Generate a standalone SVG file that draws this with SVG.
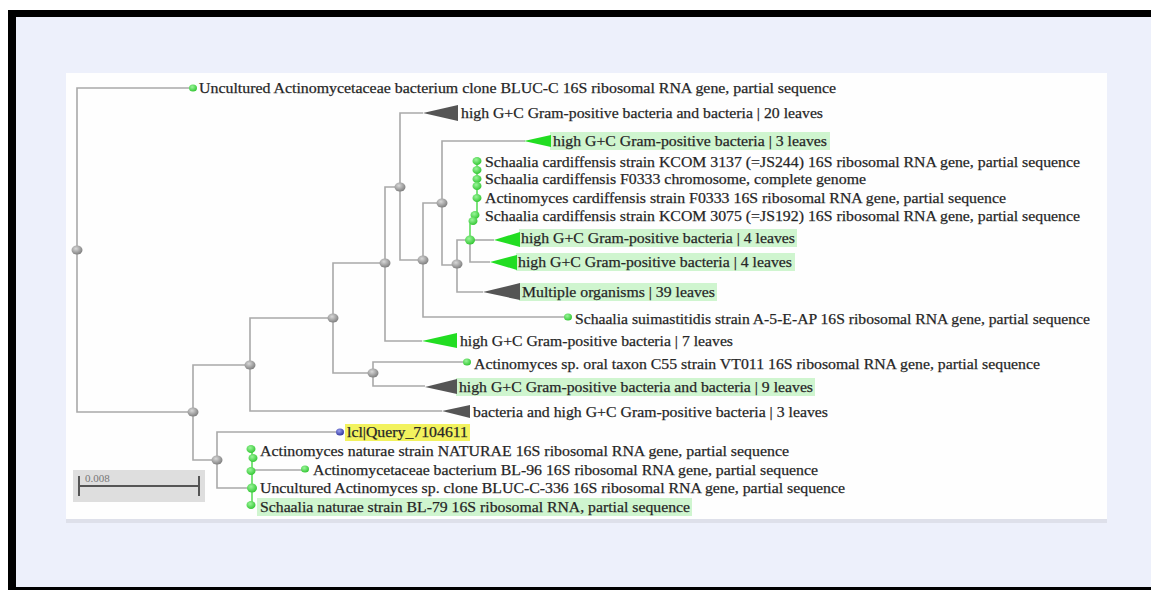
<svg xmlns="http://www.w3.org/2000/svg" width="1151" height="590" viewBox="0 0 1151 590" font-family="Liberation Serif, DejaVu Serif, serif">
<style>
.lbl{font-family:'Liberation Serif','DejaVu Serif',serif;font-size:15px;fill:#222;stroke:#333;stroke-width:0.25}
.hl{fill:#cff5cf}
.ln{fill:none;stroke:#a9a9a9;stroke-width:1.6}
.gln{fill:none;stroke:#6ee06e;stroke-width:1.8}
.gn{fill:url(#gg)}
.grn{fill:url(#gr)}
.tg{fill:#555}
.tgr{fill:#22dd22}
</style>
<defs>
<radialGradient id="gg" cx="0.4" cy="0.35" r="0.7">
<stop offset="0" stop-color="#d8d8d8"/><stop offset="1" stop-color="#7a7a7a"/>
</radialGradient>
<radialGradient id="gr" cx="0.4" cy="0.35" r="0.7">
<stop offset="0" stop-color="#9af59a"/><stop offset="1" stop-color="#2ec42e"/>
</radialGradient>
<radialGradient id="bl" cx="0.4" cy="0.35" r="0.7">
<stop offset="0" stop-color="#9aa0f0"/><stop offset="1" stop-color="#2a2f9a"/>
</radialGradient>
</defs>
<rect x="0" y="0" width="1151" height="590" fill="#ffffff"/>
<rect x="8" y="10" width="1143" height="580" fill="#000"/>
<rect x="16" y="17" width="1135" height="570" fill="#edf0fb"/>
<rect x="66" y="518" width="1041" height="5" fill="#d9dce6" opacity="0.8"/>
<rect x="66" y="73" width="1041" height="446" fill="#fefefe"/>

<g id="highlights">
<rect class="hl" x="550" y="132" width="280" height="18"/>
<rect class="hl" x="519" y="229" width="278" height="18"/>
<rect class="hl" x="516" y="253" width="279" height="18"/>
<rect class="hl" x="519" y="283" width="198" height="18"/>
<rect class="hl" x="456" y="378" width="359" height="18"/>
<rect class="hl" x="257" y="498" width="435" height="18"/>
<rect x="345" y="424" width="125" height="17" fill="#f2f25e"/>
</g>

<g id="connectors">
<path class="ln" d="M190,88 H77 V412 H193"/>
<path class="ln" d="M250,365 H193 V460 H217"/>
<path class="ln" d="M333,318 H250 V411 H442"/>
<path class="ln" d="M385,263 H333 V373 H373"/>
<path class="ln" d="M466,362 H373 V386 H425"/>
<path class="ln" d="M400,187 H385 V341 H422"/>
<path class="ln" d="M423,113 H400 V260 H423"/>
<path class="ln" d="M442,203 H423 V317 H566"/>
<path class="ln" d="M525,141 H442 V265 H457"/>
<path class="ln" d="M470,240 H457 V292 H483"/>
<path class="ln" d="M470,240 H494"/>
<path class="ln" d="M470,240 V262 H490"/>
<path class="gln" d="M477,161 V215 L470,224 V240"/>
<path class="ln" d="M338,432 H217 V488 H252"/>
<path class="gln" d="M252,449 V505"/>
<path class="ln" d="M252,470 H303"/>
</g>

<g id="n-root"><ellipse class="gn" cx="77" cy="250" rx="5.5" ry="4.5"/></g>
<g id="n-a"><ellipse class="gn" cx="193" cy="412" rx="5.5" ry="4.5"/></g>
<g id="n-b"><ellipse class="gn" cx="250" cy="365" rx="5.5" ry="4.5"/></g>
<g id="n-c"><ellipse class="gn" cx="333" cy="318" rx="5.5" ry="4.5"/></g>
<g id="n-d"><ellipse class="gn" cx="373" cy="373" rx="5.5" ry="4.5"/></g>
<g id="n-e"><ellipse class="gn" cx="385" cy="263" rx="5.5" ry="4.5"/></g>
<g id="n-f"><ellipse class="gn" cx="400" cy="187" rx="5.5" ry="4.5"/></g>
<g id="n-g"><ellipse class="gn" cx="423" cy="260" rx="5.5" ry="4.5"/></g>
<g id="n-h"><ellipse class="gn" cx="442" cy="203" rx="5.5" ry="4.5"/></g>
<g id="n-i"><ellipse class="gn" cx="457" cy="264" rx="5.5" ry="4.5"/></g>
<g id="n-k"><ellipse class="gn" cx="217" cy="460" rx="5.5" ry="4.5"/></g>

<g id="n-green-top">
<ellipse class="grn" cx="477" cy="161" rx="4.5" ry="4"/>
<ellipse class="grn" cx="477" cy="170" rx="4.5" ry="4"/>
<ellipse class="grn" cx="477" cy="179" rx="4.5" ry="4"/>
<ellipse class="grn" cx="477" cy="186" rx="4.5" ry="4"/>
<ellipse class="grn" cx="477" cy="198" rx="4.5" ry="4"/>
<ellipse class="grn" cx="475" cy="215" rx="4.5" ry="4"/>
<ellipse class="grn" cx="473" cy="221" rx="4.5" ry="4"/>
<ellipse class="grn" cx="470" cy="240" rx="5" ry="4.5"/>
</g>
<g id="n-green-bottom">
<ellipse class="grn" cx="251" cy="449" rx="4.5" ry="4"/>
<ellipse class="grn" cx="253" cy="458" rx="4.5" ry="4"/>
<ellipse class="grn" cx="251" cy="471" rx="4.5" ry="4"/>
<ellipse class="grn" cx="252" cy="488" rx="5" ry="4.5"/>
<ellipse class="grn" cx="251" cy="505" rx="4.5" ry="4"/>
</g>

<g id="leaf-bluc-c">
<ellipse class="grn" cx="193" cy="88" rx="4" ry="3.5"/>
<text class="lbl" x="199" y="92.5" textLength="637" lengthAdjust="spacingAndGlyphs">Uncultured Actinomycetaceae bacterium clone BLUC-C 16S ribosomal RNA gene, partial sequence</text>
</g>
<g id="clade-20">
<path class="tg" d="M423,113 L458,105 L458,121 Z"/>
<text class="lbl" x="461" y="117.5" textLength="362" lengthAdjust="spacingAndGlyphs">high G+C Gram-positive bacteria and bacteria | 20 leaves</text>
</g>
<g id="clade-3">
<path class="tgr" d="M524,141 L551,135 L551,147 Z"/>
<text class="lbl" x="553" y="145.5" textLength="274" lengthAdjust="spacingAndGlyphs">high G+C Gram-positive bacteria | 3 leaves</text>
</g>
<g id="leaf-kcom3137">
<text class="lbl" x="485" y="167" textLength="595" lengthAdjust="spacingAndGlyphs">Schaalia cardiffensis strain KCOM 3137 (=JS244) 16S ribosomal RNA gene, partial sequence</text>
</g>
<g id="leaf-f0333-chrom">
<text class="lbl" x="485" y="184" textLength="381" lengthAdjust="spacingAndGlyphs">Schaalia cardiffensis F0333 chromosome, complete genome</text>
</g>
<g id="leaf-f0333-16s">
<text class="lbl" x="485" y="202.5" textLength="521" lengthAdjust="spacingAndGlyphs">Actinomyces cardiffensis strain F0333 16S ribosomal RNA gene, partial sequence</text>
</g>
<g id="leaf-kcom3075">
<text class="lbl" x="485" y="221" textLength="595" lengthAdjust="spacingAndGlyphs">Schaalia cardiffensis strain KCOM 3075 (=JS192) 16S ribosomal RNA gene, partial sequence</text>
</g>
<g id="clade-4a">
<path class="tgr" d="M494,240 L520,232 L520,247 Z"/>
<text class="lbl" x="521" y="242.5" textLength="274" lengthAdjust="spacingAndGlyphs">high G+C Gram-positive bacteria | 4 leaves</text>
</g>
<g id="clade-4b">
<path class="tgr" d="M490,262 L517,255 L517,270 Z"/>
<text class="lbl" x="518" y="266.5" textLength="274" lengthAdjust="spacingAndGlyphs">high G+C Gram-positive bacteria | 4 leaves</text>
</g>
<g id="clade-39">
<path class="tg" d="M483,292 L520,283 L520,300 Z"/>
<text class="lbl" x="522" y="296.5" textLength="193" lengthAdjust="spacingAndGlyphs">Multiple organisms | 39 leaves</text>
</g>
<g id="leaf-suimastitidis">
<ellipse class="grn" cx="568" cy="317" rx="4" ry="3.5"/>
<text class="lbl" x="575" y="323.5" textLength="515" lengthAdjust="spacingAndGlyphs">Schaalia suimastitidis strain A-5-E-AP 16S ribosomal RNA gene, partial sequence</text>
</g>
<g id="clade-7">
<path class="tgr" d="M422,341 L457,333 L457,348 Z"/>
<text class="lbl" x="460" y="345.5" textLength="273" lengthAdjust="spacingAndGlyphs">high G+C Gram-positive bacteria | 7 leaves</text>
</g>
<g id="leaf-c55">
<ellipse class="grn" cx="467" cy="362" rx="4" ry="3.5"/>
<text class="lbl" x="474" y="368.5" textLength="566" lengthAdjust="spacingAndGlyphs">Actinomyces sp. oral taxon C55 strain VT011 16S ribosomal RNA gene, partial sequence</text>
</g>
<g id="clade-9">
<path class="tg" d="M425,387 L457,379 L457,394 Z"/>
<text class="lbl" x="459" y="391.5" textLength="354" lengthAdjust="spacingAndGlyphs">high G+C Gram-positive bacteria and bacteria | 9 leaves</text>
</g>
<g id="clade-3b">
<path class="tg" d="M442,411 L470,405 L470,418 Z"/>
<text class="lbl" x="473" y="417" textLength="355" lengthAdjust="spacingAndGlyphs">bacteria and high G+C Gram-positive bacteria | 3 leaves</text>
</g>
<g id="leaf-query">
<ellipse cx="340" cy="432" rx="4" ry="3.5" fill="url(#bl)"/>
<text class="lbl" x="347" y="436.5" textLength="121" lengthAdjust="spacingAndGlyphs">lcl|Query_7104611</text>
</g>
<g id="leaf-naturae">
<text class="lbl" x="260" y="455.5" textLength="529" lengthAdjust="spacingAndGlyphs">Actinomyces naturae strain NATURAE 16S ribosomal RNA gene, partial sequence</text>
</g>
<g id="leaf-bl96">
<ellipse class="grn" cx="305" cy="469" rx="4" ry="3.5"/>
<text class="lbl" x="313" y="474.5" textLength="505" lengthAdjust="spacingAndGlyphs">Actinomycetaceae bacterium BL-96 16S ribosomal RNA gene, partial sequence</text>
</g>
<g id="leaf-bluc-c-336">
<text class="lbl" x="260" y="492.5" textLength="585" lengthAdjust="spacingAndGlyphs">Uncultured Actinomyces sp. clone BLUC-C-336 16S ribosomal RNA gene, partial sequence</text>
</g>
<g id="leaf-bl79">
<text class="lbl" x="260" y="511.5" textLength="430" lengthAdjust="spacingAndGlyphs">Schaalia naturae strain BL-79 16S ribosomal RNA, partial sequence</text>
</g>

<g id="scale-bar">
<rect x="73" y="470" width="132" height="32" fill="#dedede"/>
<path d="M79,486 H199 M79,476 V496 M199,476 V496" fill="none" stroke="#555" stroke-width="2"/>
<text x="85" y="482" font-family="Liberation Serif, serif" font-size="11" fill="#777">0.008</text>
</g>
</svg>
